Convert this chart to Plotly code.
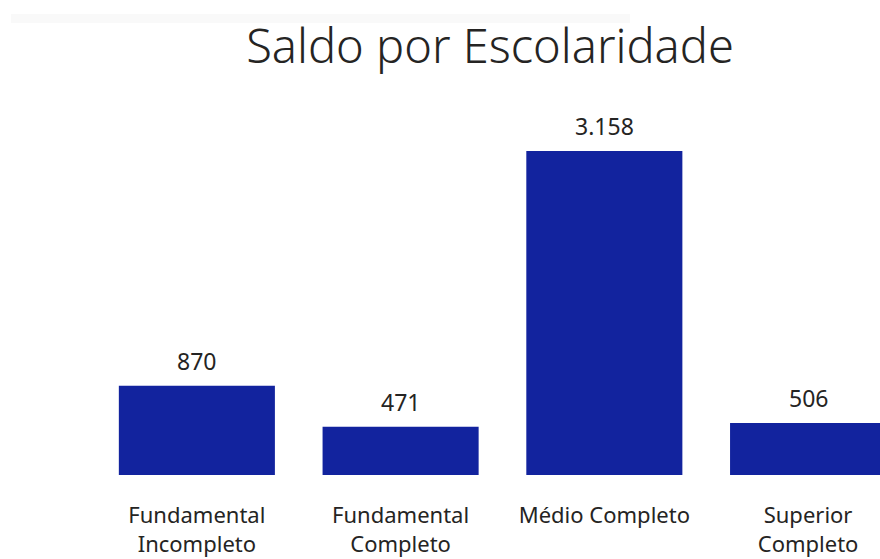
import plotly.graph_objects as go

categorias = ["Fundamental<br>Incompleto", "Fundamental<br>Completo", "Médio Completo", "Superior<br>Completo"]
saldo = [870, 471, 3158, 506]
rotulos = [f"{v:,}".replace(",", ".") for v in saldo]

FONT = "Noto Sans, Open Sans, sans-serif"
TXT = "#252423"
W, H = 880, 559
L, R, T, B = 95, 0, 100, 84
PW, PH = W - L - R, H - T - B

fig = go.Figure()
fig.add_trace(go.Bar(
    x=categorias,
    y=saldo,
    marker=dict(color="#12239E", line=dict(width=0)),
    width=0.766,
    hoverinfo="skip",
))

for c, v, r in zip(categorias, saldo, rotulos):
    fig.add_annotation(x=c, y=v, text=r, showarrow=False, yanchor="bottom",
                       yshift=7, font=dict(family=FONT, size=23, color=TXT))

# faint header shadow band (visual decoration)
fig.add_shape(type="rect", xref="paper", yref="paper",
              x0=(11 - L) / PW, x1=(630 - L) / PW,
              y0=(H - B - 23) / PH, y1=(H - B - 14) / PH,
              line=dict(width=0), fillcolor="rgba(0,0,0,0.025)", layer="below")

fig.update_layout(
    width=W, height=H,
    margin=dict(l=L, r=R, t=T, b=B),
    paper_bgcolor="white", plot_bgcolor="white",
    showlegend=False,
    title=dict(text="Saldo por Escolaridade", x=490/W, xanchor="center", xref="container",
               y=1 - 47/H, yanchor="middle", yref="container",
               font=dict(family=FONT, size=47, color=TXT, weight=300)),
    xaxis=dict(range=[-0.5, 3.353], showgrid=False, showline=False, zeroline=False,
               ticks="", ticklabelstandoff=25,
               tickfont=dict(family=FONT, size=22, color=TXT)),
    yaxis=dict(range=[0, 3655], visible=False, showgrid=False, zeroline=False),
)

fig.write_html("out.html", config={"displayModeBar": False},
               post_script="document.body.style.margin='0';document.body.style.overflow='hidden';")
